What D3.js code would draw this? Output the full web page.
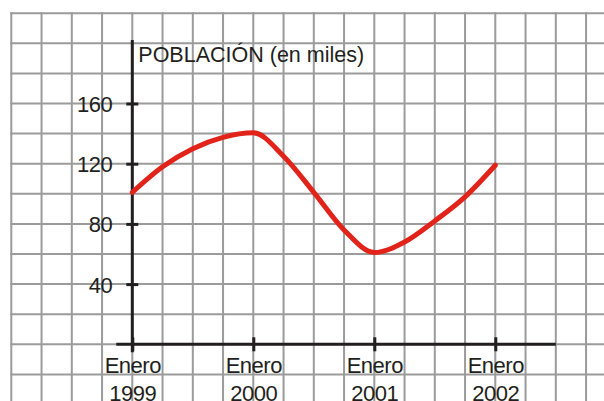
<!DOCTYPE html>
<html>
<head>
<meta charset="utf-8">
<script src="https://cdn.jsdelivr.net/npm/d3@7"></script>
<style>
  html, body { margin: 0; padding: 0; background: #fff; }
  svg { display: block; font-family: "Liberation Sans", Arial, sans-serif; }
  .grid line { stroke: #9b9b9b; stroke-width: 2; }
  .axis line, .axis-line { stroke: #231f20; stroke-width: 3; }
  .axis text { fill: #231f20; font-size: 22px; letter-spacing: -0.5px; }
  .title { fill: #231f20; font-size: 21.5px; }
  .curve { fill: none; stroke: #e2231a; stroke-width: 5; stroke-linecap: round; stroke-linejoin: round; }
</style>
</head>
<body>
<div id="chart"></div>
<script>
// data (quarterly, in thousands)
const dates = [1999, 1999.25, 1999.5, 1999.75, 2000, 2000.25, 2000.5, 2000.75, 2001, 2001.25, 2001.5, 2001.75, 2002];
const population = [101, 118, 130, 137.5, 140.5, 125, 101, 76, 61, 68, 82, 98, 119];
const yearTicks = [1999, 2000, 2001, 2002];
const monthLabel = "Enero";
const valueTicks = [40, 80, 120, 160];
const axisTitle = "POBLACIÓN (en miles)";

const width = 604, height = 401;

const x = d3.scaleLinear().domain([1999, 2002]).range([132.3, 495.3]);
const y = d3.scaleLinear().domain([0, 160]).range([344.3, 103.5]);

const svg = d3.select('#chart').append('svg')
    .attr('width', width)
    .attr('height', height);

// background grid (quarter years across, 20 units down)
const grid = svg.append('g').attr('class', 'grid');
grid.selectAll('line.v')
    .data(d3.range(1998, 2002.8, 0.25))
    .join('line')
    .attr('class', 'v')
    .attr('x1', d => x(d)).attr('x2', d => x(d))
    .attr('y1', y(220) - 1).attr('y2', height);
grid.selectAll('line.h')
    .data(d3.range(220, -50, -20))
    .join('line')
    .attr('class', 'h')
    .attr('x1', x(1998) - 1).attr('x2', width)
    .attr('y1', d => y(d)).attr('y2', d => y(d));

// y axis
const yAxis = svg.append('g')
    .attr('class', 'axis')
    .attr('transform', `translate(${x(1999)},0)`)
    .call(d3.axisLeft(y).tickValues(valueTicks).tickSize(6).tickPadding(14));
yAxis.select('.domain').remove();
yAxis.selectAll('.tick line').attr('x1', -6).attr('x2', 6);
yAxis.selectAll('.tick text').attr('dy', '0.36em');
svg.append('line')
    .attr('class', 'axis-line')
    .attr('x1', x(1999)).attr('x2', x(1999))
    .attr('y1', 40).attr('y2', y(0) + 8);

// x axis
const xAxis = svg.append('g')
    .attr('class', 'axis')
    .attr('transform', `translate(0,${y(0)})`)
    .call(d3.axisBottom(x).tickValues(yearTicks).tickSize(7).tickFormat(''));
xAxis.select('.domain').remove();
xAxis.selectAll('.tick line').attr('y1', -7).attr('y2', 7);
xAxis.selectAll('.tick text').remove();
const lbl = xAxis.selectAll('.tick').append('text')
    .attr('text-anchor', 'middle');
lbl.append('tspan').attr('x', 0).attr('y', 28.5).text(monthLabel);
lbl.append('tspan').attr('x', 0).attr('y', 56.5).text(d => d);
svg.append('line')
    .attr('class', 'axis-line')
    .attr('x1', x(1999) - 16).attr('x2', x(2002.5))
    .attr('y1', y(0)).attr('y2', y(0));

svg.append('text')
    .attr('class', 'title')
    .attr('x', x(1999) + 6)
    .attr('y', 61.5)
    .text(axisTitle);

// population curve
const rows = dates.map((d, i) => ({date: d, value: population[i]}));
const line = d3.line()
    .x(d => x(d.date))
    .y(d => y(d.value))
    .curve(d3.curveMonotoneX);
svg.append('path')
    .attr('class', 'curve')
    .attr('d', line(rows));
</script>
</body>
</html>
